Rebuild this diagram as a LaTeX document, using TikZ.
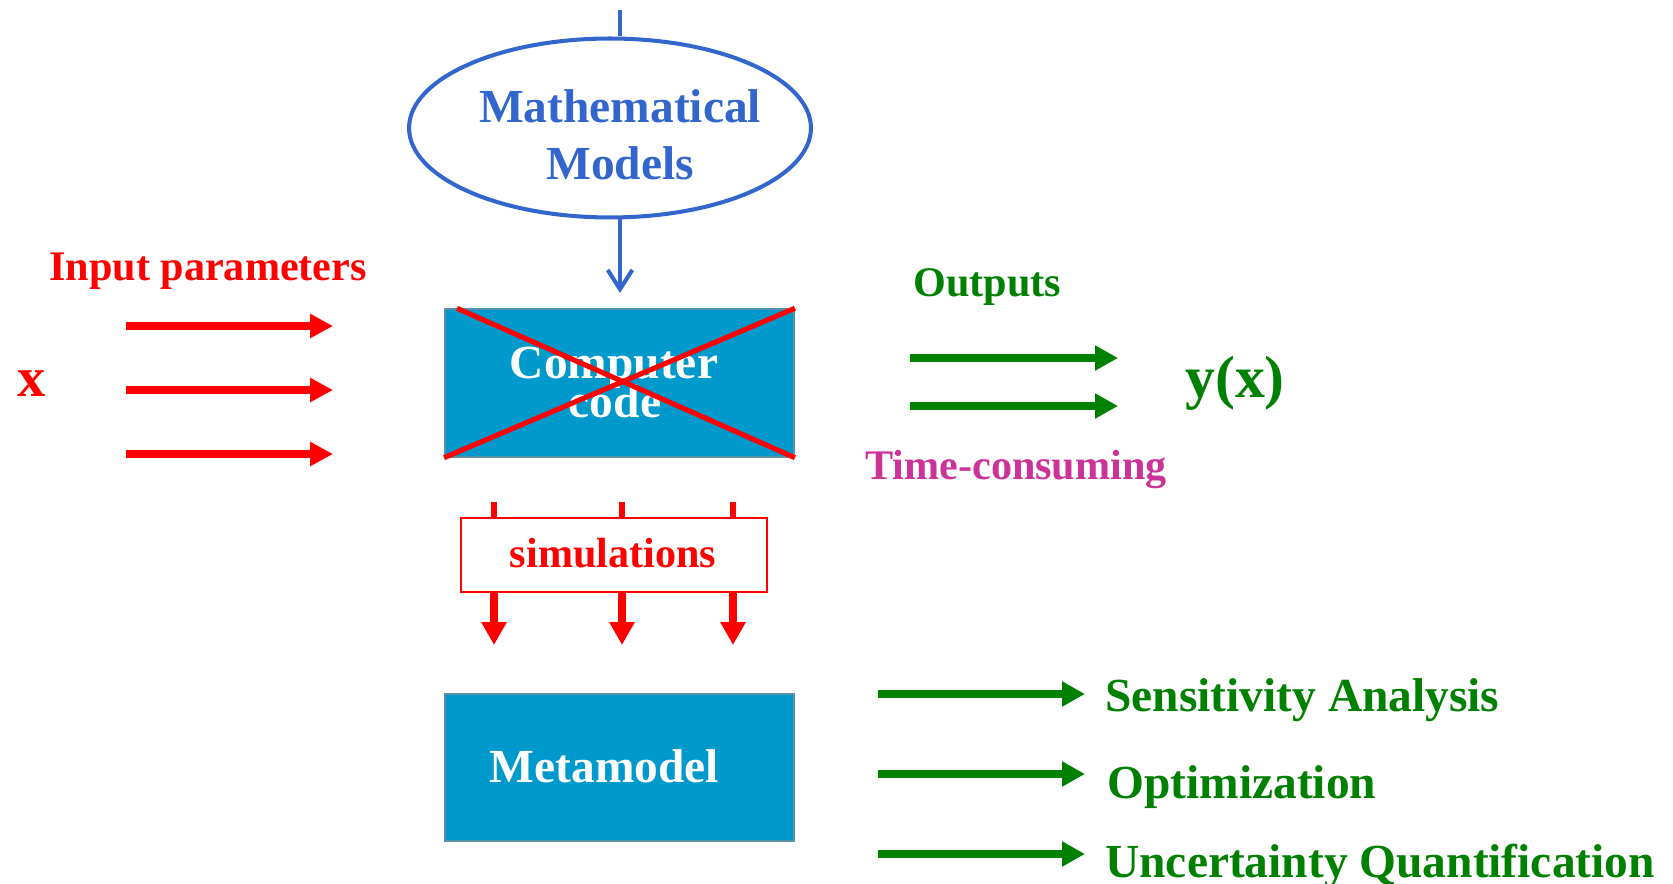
\documentclass[tikz,border=0pt]{standalone}
\usepackage{fontspec}
\setmainfont{Liberation Serif}
\usetikzlibrary{arrows.meta,shapes.geometric,calc}
\definecolor{mblue}{RGB}{51,102,204}
\definecolor{mred}{RGB}{255,0,0}
\definecolor{mgreen}{RGB}{0,128,0}
\definecolor{mmag}{RGB}{204,51,153}
\definecolor{boxfill}{RGB}{0,153,204}
\definecolor{boxline}{RGB}{90,143,168}
\tikzset{
  txt/.style={inner sep=0pt, anchor=base west, font=\bfseries\fontsize{24}{28}\selectfont},
  ctxt/.style={inner sep=0pt, anchor=base, font=\bfseries\fontsize{27}{32}\selectfont},
  bluebox/.style={rectangle, draw=boxline, line width=1.1pt, fill=boxfill, minimum width=6.98cm, minimum height=2.95cm, inner sep=0pt},
  redarrow/.style={draw=mred, line width=4.5pt, -{Triangle[length=13pt,width=13pt]}},
  simarrow/.style={draw=mred, line width=4.2pt, -{Triangle[length=13pt,width=13.6pt]}},
  greenarrow/.style={draw=mgreen, line width=4.3pt, -{Triangle[length=13pt,width=13.5pt]}},
  blueline/.style={draw=mblue, line width=2.3pt},
}
\begin{document}
\begin{tikzpicture}[x=0.02cm,y=-0.02cm]
\useasboundingbox (0,0) rectangle (1673,884);

% Mathematical models
\coordinate (top) at (620,10);
\node[ellipse, draw=mblue, line width=2.3pt, minimum width=8.04cm, minimum height=3.58cm, inner sep=0pt] (mm) at (610,128) {};
\node[ctxt, text=mblue] (mt1) at (620,123) {Mathematical};
\node[ctxt, text=mblue] (mt2) at (620,180) {Models};
\draw[blueline] (top) -- (top |- mm.north);
\coordinate (mmend) at (620,293);
\draw[blueline, -{Straight Barb[length=11pt,width=14pt]}] (mm.south -| top) -- (mmend);

% Computer code
\node[bluebox] (cc) at (619.5,383) {};
\node[ctxt, text=white] (cc1) at (614,379) {Computer};
\node[ctxt, text=white] (cc2) at (615,418) {code};
\draw[mred, line width=2.9pt] ($(cc.north west)+(13,0)$) -- (cc.south east);
\draw[mred, line width=2.9pt] (cc.north east) -- (cc.south west);

% Input
\node[txt, text=mred] (inp) at (49,281) {Input parameters};
\node[txt, text=mred, font=\bfseries\fontsize{32}{36}\selectfont] (xv) at (17,397) {x};
\foreach \y/\n in {326/a,390/b,454/c}{
  \coordinate (ia\n) at (126,\y);
  \coordinate (ib\n) at (333,\y);
  \draw[redarrow] (ia\n) -- (ib\n);
}

% Outputs
\node[txt, text=mgreen] (outp) at (913,297) {Outputs};
\foreach \y/\n in {358/a,406/b}{
  \coordinate (oa\n) at (910,\y);
  \coordinate (ob\n) at (1118,\y);
  \draw[greenarrow] (oa\n) -- (ob\n);
}
\node[txt, text=mgreen, font=\bfseries\fontsize{34}{38}\selectfont] (yx) at (1185,398) {y(x)};
\node[txt, text=mmag] (tc) at (865,480) {Time-consuming};

% simulations
\node[rectangle, draw=mred, line width=1.2pt, fill=white, minimum width=6.12cm, minimum height=1.48cm, inner sep=0pt] (sim) at (614,555) {};
\node[inner sep=0pt, anchor=base, text=mred, font=\bfseries\fontsize{24}{28}\selectfont] (simt) at (613,568) {simulations};
\foreach \x/\n in {494/a,622/b,733/c}{
  \coordinate (st\n) at (\x,502);
  \draw[mred, line width=3.8pt] (st\n) -- (st\n |- sim.north);
  \coordinate (se\n) at (\x,645);
  \draw[simarrow] (se\n |- sim.south) -- (se\n);
}

% Metamodel
\node[bluebox] (meta) at (619.5,767.5) {};
\node[ctxt, text=white] (metat) at (604.5,782) {Metamodel};

% applications
\foreach \y/\n in {694/a,774/b,854/c}{
  \coordinate (ga\n) at (878,\y);
  \coordinate (gb\n) at (1085,\y);
  \draw[greenarrow] (ga\n) -- (gb\n);
}
\node[txt, text=mgreen, font=\bfseries\fontsize{27}{32}\selectfont] (sa) at (1105,711) {Sensitivity Analysis};
\node[txt, text=mgreen, font=\bfseries\fontsize{27}{32}\selectfont] (opt) at (1107,798) {Optimization};
\node[txt, text=mgreen, font=\bfseries\fontsize{27}{32}\selectfont] (uq) at (1105,877) {Uncertainty Quantification};
\end{tikzpicture}
\end{document}
